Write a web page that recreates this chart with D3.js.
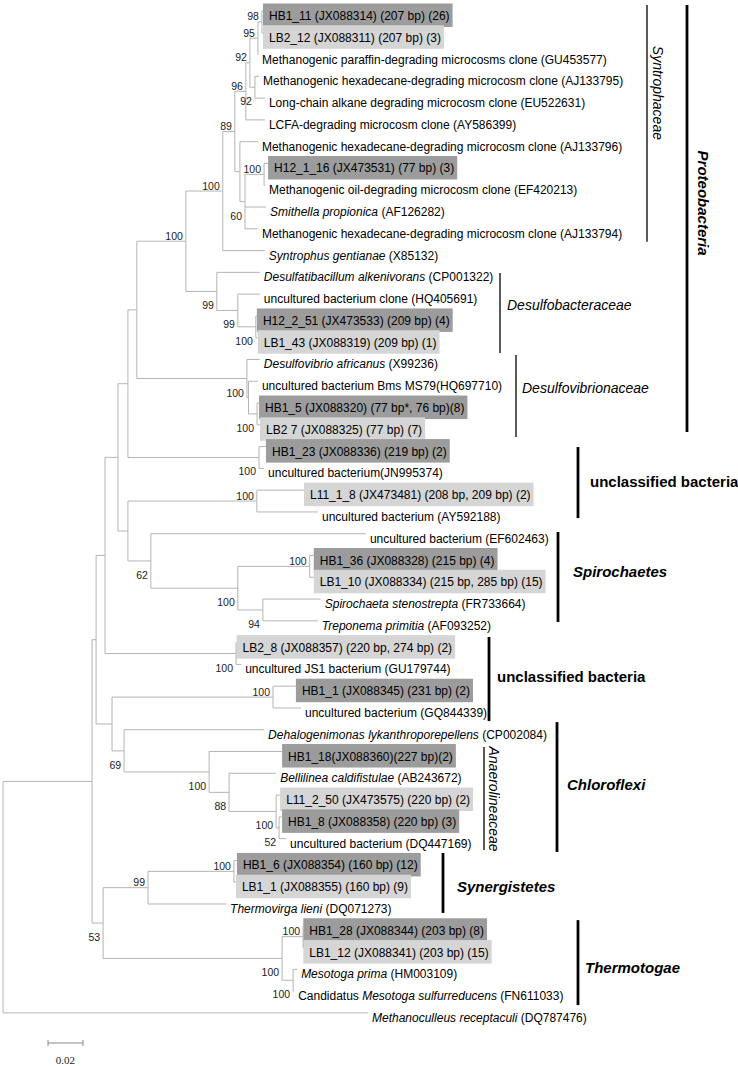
<!DOCTYPE html>
<html>
<head>
<meta charset="utf-8">
<script src="https://cdnjs.cloudflare.com/ajax/libs/d3/7.8.5/d3.min.js"></script>
<style>
  html, body { margin: 0; padding: 0; background: #fff; }
  svg { display: block; }
</style>
</head>
<body>
<script>
// ---------------- DATA ----------------
// Leaf labels in tree order (top to bottom); {...} marks italic parts
const leafLabels = [
  "HB1_11 (JX088314) (207 bp) (26)",
  "LB2_12 (JX088311) (207 bp) (3)",
  "Methanogenic paraffin-degrading microcosms clone (GU453577)",
  "Methanogenic hexadecane-degrading microcosm clone (AJ133795)",
  "Long-chain alkane degrading microcosm clone (EU522631)",
  "LCFA-degrading microcosm clone (AY586399)",
  "Methanogenic hexadecane-degrading microcosm clone (AJ133796)",
  "H12_1_16 (JX473531) (77 bp) (3)",
  "Methanogenic oil-degrading microcosm clone (EF420213)",
  "{Smithella propionica} (AF126282)",
  "Methanogenic hexadecane-degrading microcosm clone (AJ133794)",
  "{Syntrophus gentianae} (X85132)",
  "{Desulfatibacillum alkenivorans} (CP001322)",
  "uncultured bacterium clone (HQ405691)",
  "H12_2_51 (JX473533) (209 bp) (4)",
  "LB1_43 (JX088319) (209 bp) (1)",
  "{Desulfovibrio africanus} (X99236)",
  "uncultured bacterium Bms MS79(HQ697710)",
  "HB1_5 (JX088320) (77 bp*, 76 bp)(8)",
  "LB2 7 (JX088325) (77 bp) (7)",
  "HB1_23 (JX088336) (219 bp) (2)",
  "uncultured bacterium(JN995374)",
  "L11_1_8 (JX473481) (208 bp, 209 bp) (2)",
  "uncultured bacterium (AY592188)",
  "uncultured bacterium (EF602463)",
  "HB1_36 (JX088328) (215 bp) (4)",
  "LB1_10 (JX088334) (215 bp, 285 bp) (15)",
  "{Spirochaeta stenostrepta} (FR733664)",
  "{Treponema primitia} (AF093252)",
  "LB2_8 (JX088357) (220 bp, 274 bp) (2)",
  "uncultured JS1 bacterium (GU179744)",
  "HB1_1 (JX088345) (231 bp) (2)",
  "uncultured bacterium (GQ844339)",
  "{Dehalogenimonas lykanthroporepellens} (CP002084)",
  "HB1_18(JX088360)(227 bp)(2)",
  "{Bellilinea caldifistulae} (AB243672)",
  "L11_2_50 (JX473575) (220 bp) (2)",
  "HB1_8 (JX088358) (220 bp) (3)",
  "uncultured bacterium (DQ447169)",
  "HB1_6 (JX088354) (160 bp) (12)",
  "LB1_1 (JX088355) (160 bp) (9)",
  "{Thermovirga lieni} (DQ071273)",
  "HB1_28 (JX088344) (203 bp) (8)",
  "LB1_12 (JX088341) (203 bp) (15)",
  "{Mesotoga prima} (HM003109)",
  "Candidatus {Mesotoga sulfurreducens} (FN611033)",
  "{Methanoculleus receptaculi} (DQ787476)"
];

// Highlighted clones (leaf indices)
const darkBoxes  = [0, 7, 14, 18, 20, 25, 31, 34, 37, 39, 42];
const lightBoxes = [1, 15, 19, 22, 26, 29, 36, 40, 43];

// Tree topology with branch lengths (substitutions/site) and bootstrap values
const syntrophaceaeNwk =
  "((((((L0:0.0006,L1:0.0006)98:0.0023,L2:0.0001)95:0.0046,(L3:0.0023,L4:0.0057)92:0.0029)92:0.0023,L5:0.0109)96:0.0063," +
  "(L6:0.0103,((L7:0.0023,L8:0.0006)100:0.0109,L9:0.012,L10:0.0074)60:0.0029):0.0029)89:0.0069,L11:0.024)100";
const deltaNwk =
  "((" + syntrophaceaeNwk + ":0.0211,(L12:0.0246,(L13:0.0126,(L14:0.0006,L15:0.0011)100:0.0103)99:0.012)99:0.0177)100:0.028," +
  "(L16:0.0074,(L17:0.0054,(L18:0.0011,L19:0.0017)100:0.0049):0.0009)100:0.0629)";
const cladeANwk =
  "(((" + deltaNwk + ":0.0051,(L20:0.004,L21:0.0029)100:0.0749):0.0057," +
  "((L22:0.0269,L23:0.0349)100:0.0737,(L24:0.1229,((L25:0.0023,L26:0.0023)100:0.0411,(L27:0.0331,L28:0.0314)94:0.0143)100:0.0497)62:0.0131):0.0057):0.0074," +
  "(L29:0.0003,L30:0.0029)100:0.0749)";
const chloroNwk =
  "((L31:0.0131,L32:0.016)100:0.092,(L33:0.08,(L34:0.0417,(L35:0.0269,(L36:0.0023,(L37:0.0017,L38:0.004)52:0.0017)100:0.0269)88:0.0114)100:0.0486)69:0.0069)";
const synThermoNwk =
  "(((L39:0.0017,L40:0.0011)100:0.0491,L41:0.0446)99:0.0257,((L42:0.0001,L43:0.0001)100:0.012,(L44:0.0023,L45:0.0006)100:0.0063)100:0.1023)53";
const treeNewick =
  "(((" + cladeANwk + ":0.0051," + chloroNwk + ":0.0091):0.0023," + synThermoNwk + ":0.0063):0.0509,L46:0.2086);";

// Clade annotations (ranges in leaf-row units)
const cladeNames = ["Syntrophaceae", "Proteobacteria", "Desulfobacteraceae", "Desulfovibrionaceae",
  "unclassified bacteria", "Spirochaetes", "unclassified bacteria", "Chloroflexi",
  "Anaerolineaceae", "Synergistetes", "Thermotogae"];
const cladeFrom = [-0.28, -0.28, 12.03, 15.79, 20.02, 23.92, 28.74, 32.65, 33.79, 38.66, 41.74];
const cladeTo   = [10.6, 19.33, 15.7, 19.56, 23.28, 28.05, 32.6, 38.61, 38.52, 41.41, 45.64];
const cladeAt   = [3.76, 8.82, 13.5, 17.31, 21.63, 25.76, 30.58, 35.54, 36.18, 40.22, 43.94];

const scaleBarValue = 0.02;
const scaleBarLabel = "0.02";

// ---------------- LAYOUT / STYLE ----------------
const W = 738, H = 1066;
const FONT = "Arial, 'Liberation Sans', Helvetica, sans-serif";
const cladeLayout = [
  {x: 647, tx: 658, thick: false, rotate: true,  weight: "normal", style: "italic", size: 14},
  {x: 687, tx: 703, thick: true,  rotate: true,  weight: "bold",   style: "italic", size: 15},
  {x: 500, tx: 507, thick: false, rotate: false, weight: "normal", style: "italic", size: 14},
  {x: 516, tx: 522, thick: false, rotate: false, weight: "normal", style: "italic", size: 14},
  {x: 578, tx: 590, thick: true,  rotate: false, weight: "bold",   style: "normal", size: 15},
  {x: 558, tx: 573, thick: true,  rotate: false, weight: "bold",   style: "italic", size: 15},
  {x: 489, tx: 497, thick: true,  rotate: false, weight: "bold",   style: "normal", size: 15},
  {x: 557, tx: 567, thick: true,  rotate: false, weight: "bold",   style: "italic", size: 15},
  {x: 484, tx: 494, thick: false, rotate: true,  weight: "normal", style: "italic", size: 14},
  {x: 443, tx: 457, thick: true,  rotate: false, weight: "bold",   style: "italic", size: 15},
  {x: 578, tx: 585, thick: true,  rotate: false, weight: "bold",   style: "italic", size: 15}
];

// ---------------- PARSE ----------------
function parseNewick(s) {
  let i = 0;
  function node() {
    const n = {children: []};
    if (s[i] === "(") {
      i++;
      n.children.push(node());
      while (s[i] === ",") { i++; n.children.push(node()); }
      i++; // ')'
    }
    let name = "";
    while (i < s.length && !":,();".includes(s[i])) name += s[i++];
    n.name = name;
    n.length = 0;
    if (s[i] === ":") {
      i++;
      let num = "";
      while (i < s.length && !",();".includes(s[i])) num += s[i++];
      n.length = +num;
    }
    return n;
  }
  return node();
}

const root = d3.hierarchy(parseNewick(treeNewick), d => d.children.length ? d.children : null);
root.eachBefore(d => { d.dist = d.parent ? d.parent.dist + d.data.length : 0; });
const maxDist = d3.max(root.leaves(), d => d.dist);

const x = d3.scaleLinear().domain([0, maxDist]).range([3, 368]);
const y = d3.scaleLinear().domain([0, leafLabels.length - 1]).range([11, 1012.9]);

root.eachAfter(d => {
  if (!d.children) { d.idx = +d.data.name.slice(1); d.py = y(d.idx); }
  else { d.py = (d.children[0].py + d.children[d.children.length - 1].py) / 2; }
  d.px = x(d.dist);
});

// ---------------- DRAW ----------------
const svg = d3.select("body").append("svg")
  .attr("width", W).attr("height", H)
  .attr("viewBox", `0 0 ${W} ${H}`)
  .style("font-family", FONT);
svg.append("rect").attr("width", W).attr("height", H).attr("fill", "#fff");

const leaves = root.leaves();
const gBoxes = svg.append("g");
const gLines = svg.append("g").attr("stroke", "#b4b4b4").attr("stroke-width", 1).attr("fill", "none");
const gText = svg.append("g");

// Tree branches
root.descendants().forEach(d => {
  if (d.children) {
    gLines.append("line")
      .attr("x1", d.px).attr("x2", d.px)
      .attr("y1", d.children[0].py).attr("y2", d.children[d.children.length - 1].py);
  }
  if (d.parent) {
    gLines.append("line")
      .attr("x1", d.parent.px).attr("x2", d.px)
      .attr("y1", d.py).attr("y2", d.py);
  }
});

// Bootstrap values
root.descendants().forEach(d => {
  if (!d.children || !d.parent || !d.data.name) return;
  const sib = d.parent.children;
  const upper = sib[0] === d;
  gText.append("text")
    .attr("x", d.px - 3)
    .attr("y", upper ? d.py - 1.5 : d.py + 18)
    .attr("text-anchor", "end")
    .attr("font-size", 10.5)
    .attr("fill", "#222")
    .text(d.data.name);
});

// Leaf labels (with italic segments) and highlight boxes
const darkSet = new Set(darkBoxes), lightSet = new Set(lightBoxes);
leaves.forEach(d => {
  const boxed = darkSet.has(d.idx) || lightSet.has(d.idx);
  const tx = d.px + (boxed ? 6 : 4);
  const t = gText.append("text")
    .attr("x", tx).attr("y", d.py + 9)
    .attr("font-size", 12).attr("fill", "#000");
  leafLabels[d.idx].split(/(\{[^}]*\})/).forEach(part => {
    if (!part) return;
    const it = part[0] === "{";
    t.append("tspan").attr("font-style", it ? "italic" : "normal")
      .text(it ? part.slice(1, -1) : part);
  });
  if (boxed) {
    const len = t.node().getComputedTextLength();
    gBoxes.append("rect")
      .attr("x", d.px).attr("y", d.py - 7.5)
      .attr("width", tx - d.px + len + 3).attr("height", 23.5)
      .attr("fill", darkSet.has(d.idx) ? "#9c9c9c" : "#d5d5d5");
  }
});

// Clade annotations
cladeNames.forEach((name, i) => {
  const L = cladeLayout[i];
  svg.append("line")
    .attr("x1", L.x).attr("x2", L.x)
    .attr("y1", y(cladeFrom[i])).attr("y2", y(cladeTo[i]))
    .attr("stroke", "#000").attr("stroke-width", L.thick ? 2.8 : 1.3);
  const cy = y(cladeAt[i]);
  const t = svg.append("text")
    .attr("font-size", L.size).attr("font-weight", L.weight)
    .attr("font-style", L.style).attr("fill", "#000").text(name);
  if (L.rotate) {
    t.attr("transform", `translate(${L.tx},${cy}) rotate(90)`)
      .attr("text-anchor", "middle").attr("dy", "0.35em");
  } else {
    t.attr("x", L.tx).attr("y", cy + 5);
  }
});

// Scale bar
const sbX0 = 48, sbY = 1043;
const sbX1 = sbX0 + (x(scaleBarValue) - x(0));
const sb = svg.append("g").attr("stroke", "#888").attr("stroke-width", 1);
sb.append("line").attr("x1", sbX0).attr("x2", sbX1).attr("y1", sbY).attr("y2", sbY);
sb.append("line").attr("x1", sbX0).attr("x2", sbX0).attr("y1", sbY - 3).attr("y2", sbY + 3);
sb.append("line").attr("x1", sbX1).attr("x2", sbX1).attr("y1", sbY - 3).attr("y2", sbY + 3);
svg.append("text")
  .attr("x", (sbX0 + sbX1) / 2).attr("y", sbY + 21)
  .attr("text-anchor", "middle")
  .attr("font-family", "'Times New Roman', 'Liberation Serif', serif")
  .attr("font-size", 11).attr("fill", "#222")
  .text(scaleBarLabel);
</script>
</body>
</html>
